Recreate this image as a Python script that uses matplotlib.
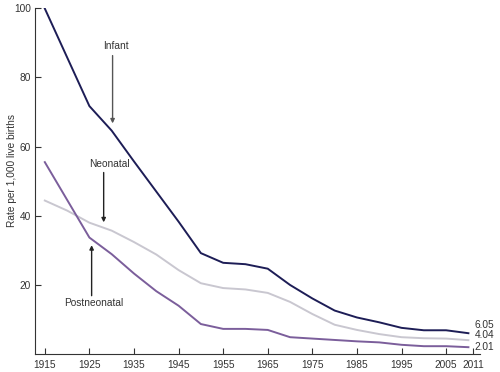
import matplotlib
matplotlib.use('Agg')
import matplotlib.pyplot as plt
from matplotlib import font_manager as fm

# regular Liberation Sans by file, so the narrow cut is not picked
path = None
for f in fm.fontManager.ttflist:
    if f.fname.endswith('LiberationSans-Regular.ttf'):
        path = f.fname
        break
if path:
    fp = fm.FontProperties(fname=path, size=7.3)
else:
    fp = fm.FontProperties(family='DejaVu Sans', size=7)

# rates per 1,000 live births
years = [1915, 1920, 1925, 1930, 1935, 1940, 1945, 1950, 1955, 1960, 1965,
         1970, 1975, 1980, 1985, 1990, 1995, 2000, 2005, 2010]
infant = [99.9, 85.8, 71.7, 64.6, 55.7, 47.0, 38.3, 29.2, 26.4, 26.0, 24.7,
          20.0, 16.1, 12.6, 10.6, 9.2, 7.6, 6.9, 6.9, 6.05]
neonatal = [44.4, 41.5, 38.0, 35.7, 32.4, 28.8, 24.3, 20.5, 19.1, 18.7, 17.7,
            15.1, 11.6, 8.5, 7.0, 5.8, 4.9, 4.6, 4.5, 4.04]
postneonatal = [55.5, 44.6, 33.7, 28.9, 23.3, 18.2, 14.0, 8.7, 7.3, 7.3, 7.0,
                4.9, 4.5, 4.1, 3.7, 3.4, 2.7, 2.3, 2.3, 2.01]

xticks = [1915, 1925, 1935, 1945, 1955, 1965, 1975, 1985, 1995, 2005, 2011]
yticks = [20, 40, 60, 80, 100]

c_inf = '#1d1d56'
c_neo = '#c9c7d0'
c_post = '#7b5e9b'
c_txt = '#333333'

fig = plt.figure(figsize=(5, 3.72), dpi=100, facecolor='white')
ax = fig.add_axes([0.07, 0.048, 0.89, 0.93])

ax.plot(years, neonatal, color=c_neo, lw=1.4, solid_joinstyle='round')
ax.plot(years, postneonatal, color=c_post, lw=1.4, solid_joinstyle='round')
ax.plot(years, infant, color=c_inf, lw=1.4, solid_joinstyle='round')

ax.set_xlim(1912.8, 2012.6)
ax.set_ylim(0, 100)
ax.set_xticks(xticks)
ax.set_xticklabels([str(x) for x in xticks], fontproperties=fp)
ax.set_yticks(yticks)
ax.set_yticklabels([str(y) for y in yticks], fontproperties=fp)
ax.tick_params(direction='in', length=4, width=0.8, colors=c_txt)
ax.tick_params(axis='x', pad=4)
ax.tick_params(axis='y', pad=3)
for s in ['top', 'right']:
    ax.spines[s].set_visible(False)
for s in ['left', 'bottom']:
    ax.spines[s].set_color(c_txt)
    ax.spines[s].set_linewidth(0.8)
ax.set_ylabel('Rate per 1,000 live births', fontproperties=fp, color=c_txt)
ax.yaxis.set_label_coords(-0.040, 0.53)

arr = dict(arrowstyle='-|>', color='#555555', lw=1, mutation_scale=6, shrinkA=0, shrinkB=0)
ax.annotate('', xy=(1930.2, 66.7), xytext=(1930.2, 86.3), arrowprops=arr)
ax.text(1931.0, 89.2, 'Infant', fontproperties=fp, ha='center', va='center', color=c_txt)
arr2 = dict(arr, color='#222222')
ax.annotate('', xy=(1928.2, 38.1), xytext=(1928.2, 52.5), arrowprops=arr2)
ax.text(1929.6, 55.0, 'Neonatal', fontproperties=fp, ha='center', va='center', color=c_txt)
ax.annotate('', xy=(1925.5, 31.5), xytext=(1925.5, 16.9), arrowprops=arr2)
ax.text(1926.0, 14.7, 'Postneonatal', fontproperties=fp, ha='center', va='center', color=c_txt)

# end labels
for val, ypos in [(infant[-1], 8.4), (neonatal[-1], 5.5), (postneonatal[-1], 2.1)]:
    ax.text(2011.4, ypos, '%.2f' % val, fontproperties=fp, ha='left', va='center',
            color=c_txt, clip_on=False)

fig.savefig('out.png', dpi=100, facecolor='white')
